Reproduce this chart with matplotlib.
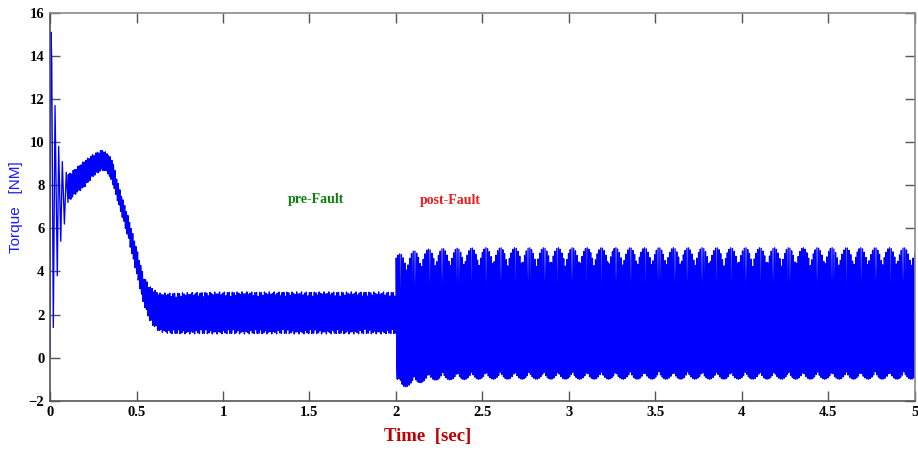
import numpy as np
import matplotlib
matplotlib.use("Agg")
import matplotlib.pyplot as plt

# --- start-up transient: individual torque swings (s, N.m) ---
startup_t = [0.000, 0.003, 0.006, 0.010, 0.019, 0.029, 0.042, 0.050,
             0.062, 0.071, 0.083, 0.094, 0.104]
startup_v = [0.0, 11.5, 15.1, 13.7, 1.4, 11.7, 3.8, 9.8,
             5.4, 9.1, 6.2, 8.6, 7.2]

# --- ripple band envelope after start-up (s, N.m) ---
env_t = [0.104, 0.15, 0.20, 0.25, 0.30, 0.33, 0.36, 0.40, 0.45, 0.50,
         0.54, 0.58, 0.63, 0.70, 1.00, 1.50, 1.998,
         2.002, 2.01, 2.04, 2.10, 2.20, 2.50, 5.00]
env_hi = [8.5, 8.8, 9.15, 9.45, 9.65, 9.5, 9.2, 7.9, 6.6, 5.1,
          3.8, 3.3, 3.0, 3.0, 3.05, 3.05, 3.05,
          4.8, 4.8, 4.85, 4.95, 5.05, 5.1, 5.1]
env_lo = [7.2, 7.6, 7.9, 8.4, 8.7, 8.6, 8.1, 7.0, 5.6, 3.9,
          2.5, 1.6, 1.2, 1.1, 1.1, 1.1, 1.1,
          -1.0, -1.2, -1.4, -1.25, -1.05, -1.0, -1.0]

sample_dt = 0.002        # solver output step (s)
ripple_hz_pre = 107.6    # torque ripple before the fault
ripple_hz_post = 102.4   # torque pulsation after the fault
harmonic_post = 0.12     # 2nd-harmonic share after the fault
fault_time = 2.0

xticks = [0, 0.5, 1, 1.5, 2, 2.5, 3, 3.5, 4, 4.5, 5]
yticks = [-2, 0, 2, 4, 6, 8, 10, 12, 14, 16]

# ripple band signal, sampled at the solver step
t = np.arange(startup_t[-1] + sample_dt, 5.0 + sample_dt / 2, sample_dt)
hi = np.interp(t, env_t, env_hi)
lo = np.interp(t, env_t, env_lo)
post = t >= fault_time
freq = np.where(post, ripple_hz_post, ripple_hz_pre)
theta = 2 * np.pi * np.cumsum(freq) * sample_dt
k = np.where(post, harmonic_post, 0.0)
w = np.sin(theta) - k * np.cos(2 * theta)
w_min, w_max = -1 + k, 1 + k
torque = lo + (hi - lo) * (w - w_min) / (w_max - w_min)

time_all = np.concatenate([startup_t, t])
torque_all = np.concatenate([startup_v, torque])

fig = plt.figure(figsize=(9.18, 4.59), dpi=100)
ax = fig.add_axes([0.0545, 0.127, 0.942, 0.845])
ax.plot(time_all, torque_all, color=(0, 0, 1), lw=0.95)

ax.set_xlim(0, 5)
ax.set_ylim(-2, 16)
ax.set_xticks(xticks)
ax.set_xticklabels([f"{v:g}" for v in xticks])
ax.set_yticks(yticks)
ax.tick_params(direction="in", length=7, width=1, colors="#555555",
               top=True, right=True, labelcolor="black", pad=4)
for lab in ax.get_xticklabels() + ax.get_yticklabels():
    lab.set_family("Liberation Serif")
    lab.set_weight("bold")
    lab.set_fontsize(10.5)
for side, sp in ax.spines.items():
    sp.set_color("#555555" if side in ("left", "bottom") else "#8a8a8a")
    sp.set_linewidth(1.2)

fig.text(16 / 918, 0.549, "Torque   [NM]", color=(0.1, 0.1, 1.0), fontsize=11,
         family="Liberation Sans", rotation=90, ha="center", va="center")
fig.text(0.466, 0.03, "Time  [sec]", color=(0.75, 0.0, 0.0), fontsize=13.5,
         family="Liberation Serif", weight="bold", ha="center", va="bottom")

ax.text(1.376, 7.35, "pre-Fault", color=(0.05, 0.5, 0.05), fontsize=10,
        family="Liberation Serif", weight="bold", va="center")
ax.text(2.139, 7.3, "post-Fault", color=(0.95, 0.1, 0.1), fontsize=10,
        family="Liberation Serif", weight="bold", va="center")

fig.savefig("out.png", dpi=100)
